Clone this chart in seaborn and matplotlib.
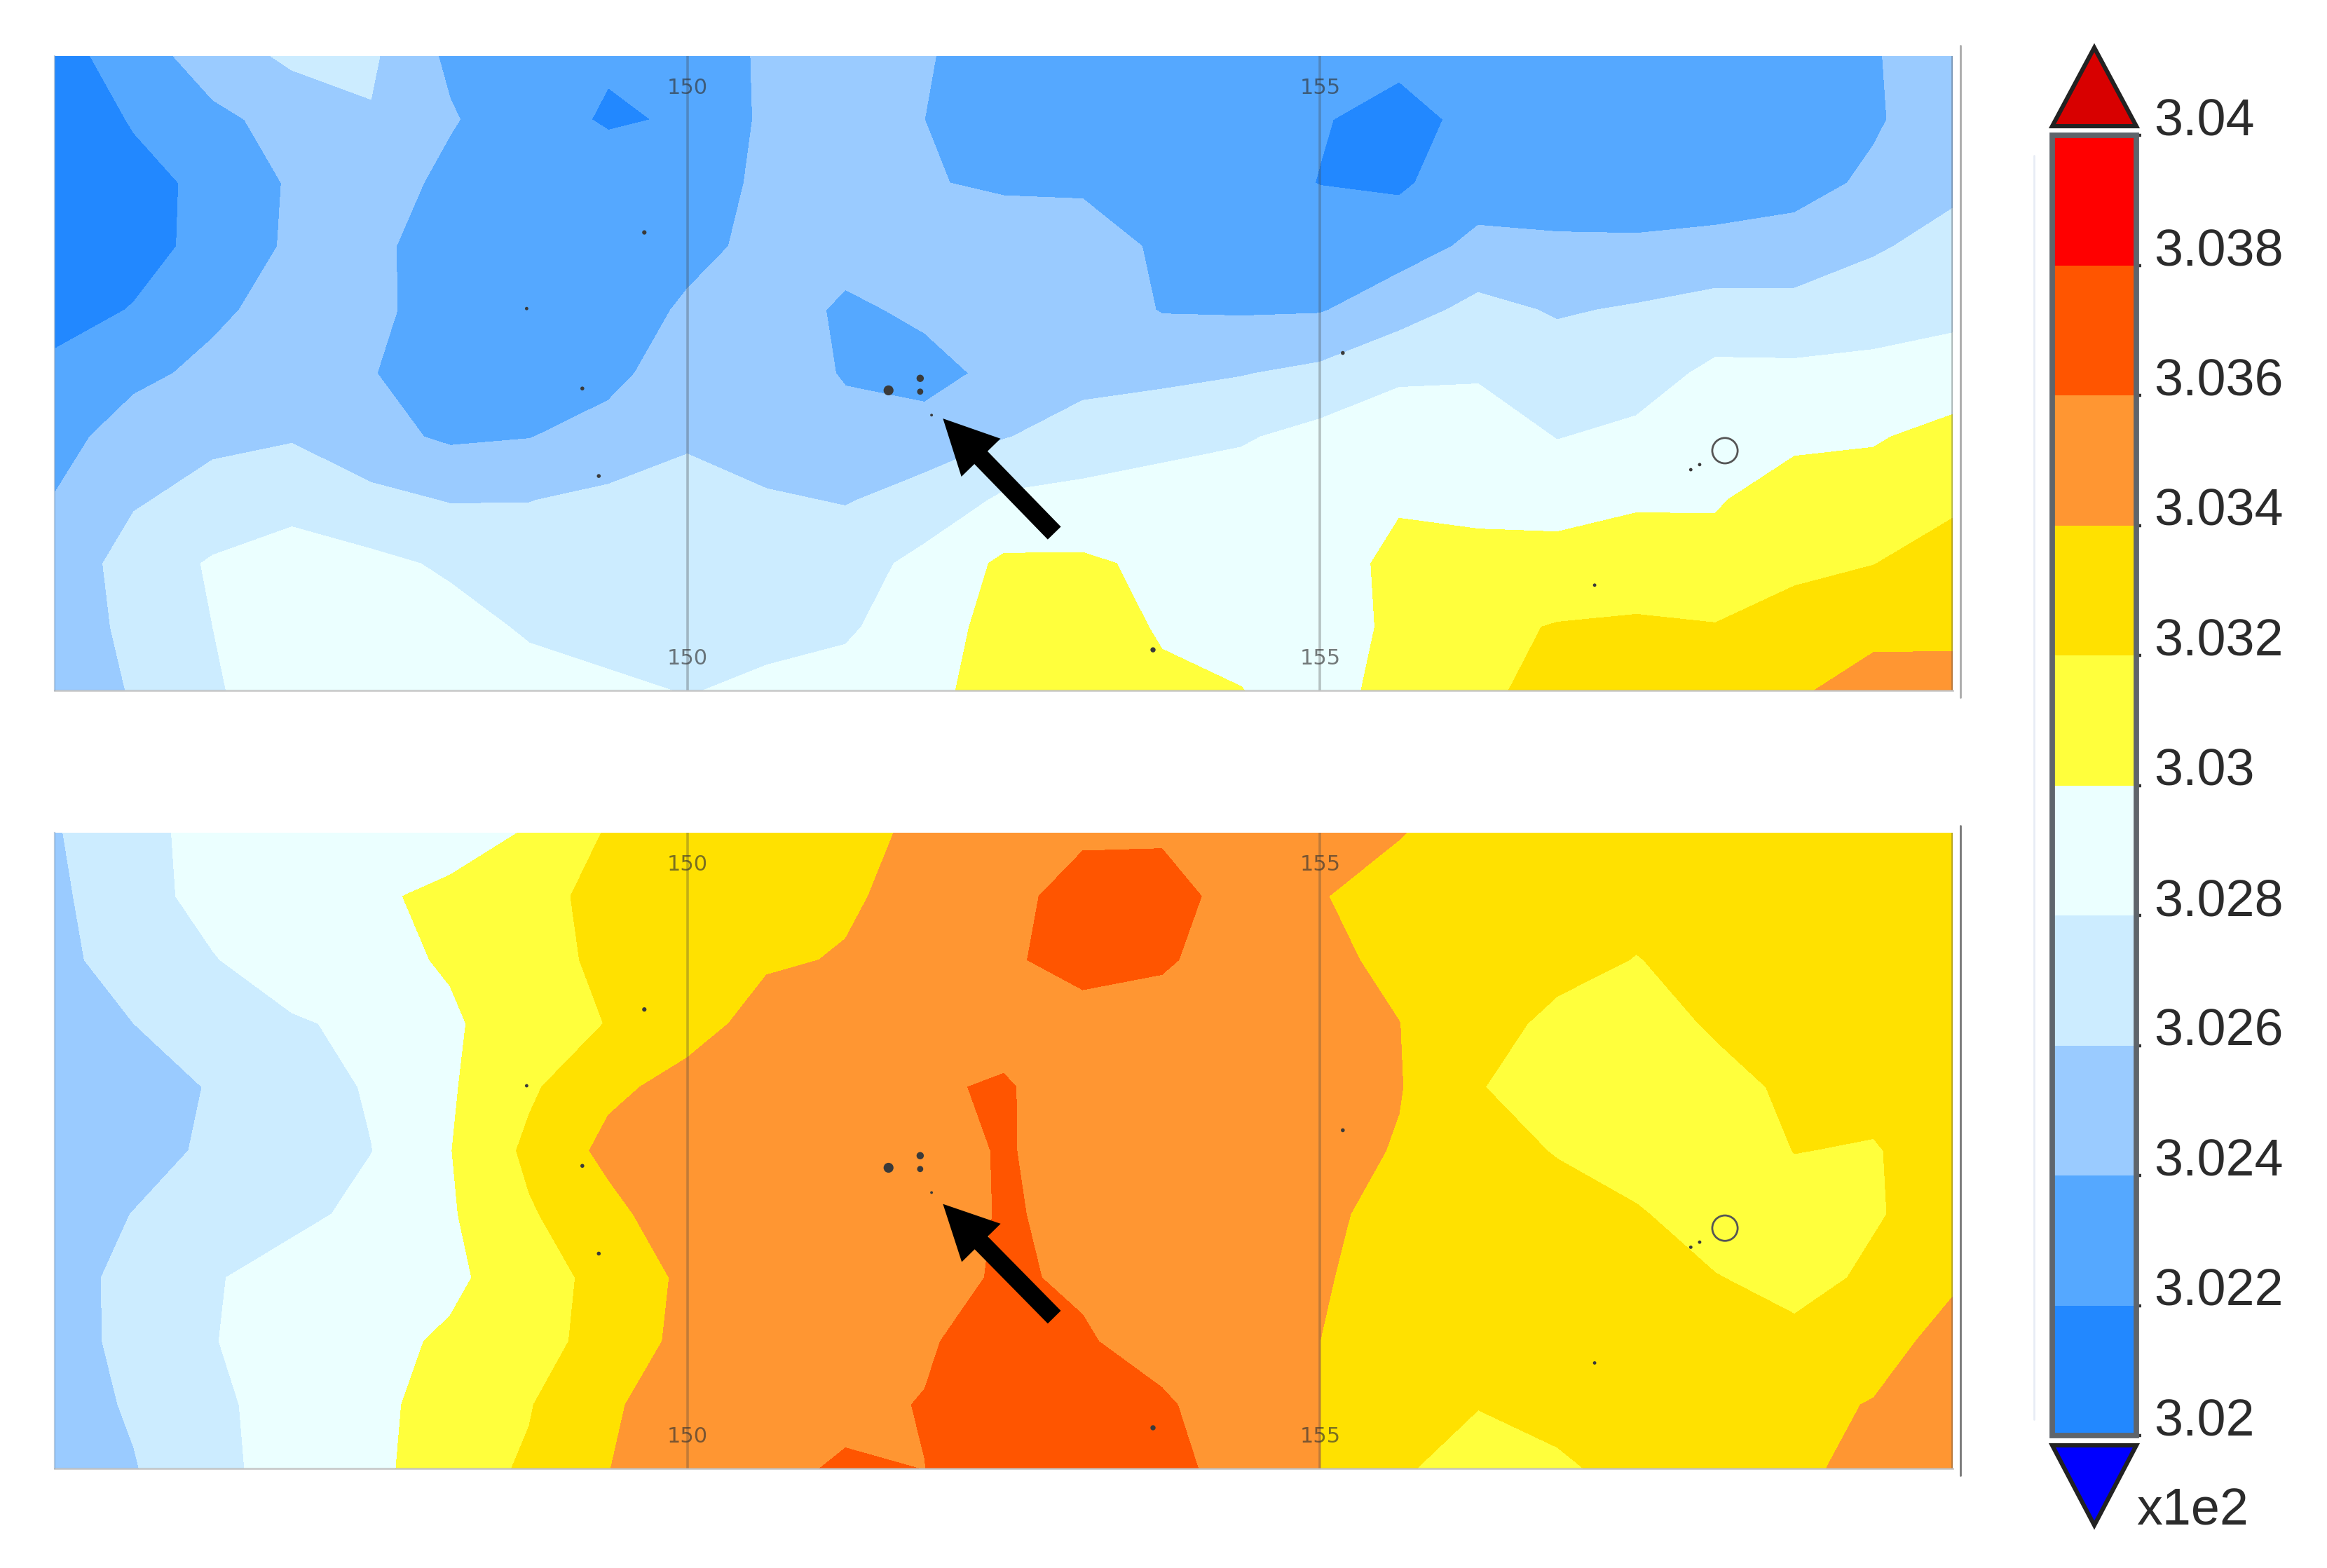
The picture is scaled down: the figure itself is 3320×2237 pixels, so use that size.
import numpy as np
import matplotlib
matplotlib.use("Agg")
import matplotlib.pyplot as plt
from matplotlib.cm import ScalarMappable
from matplotlib.colors import BoundaryNorm, ListedColormap
from matplotlib.lines import Line2D
import seaborn as sns

W, H = 3320, 2237

# grid: 0.625 x 0.5 deg, values are colour-bar steps (0.002) above 3.02
lons = np.arange(25) * 0.625 + 145
rows = np.arange(11) * 0.5

top_steps = [
    [.55, 1.55, 2.45, 3.2, 3.15, 1.8, 1.5, 1.08, 1.6, 2.1, 2.4, 2.05, 1.7, 1.5, 1.4, 1.4, 1.3, 1.17, 1.4, 1.5, 1.5, 1.6, 1.7, 1.95, 2.4],
    [.3, 1.08, 1.8, 2.3, 2.93, 2.1, 1.3, .92, 1.07, 2.2, 2.5, 2.0, 1.5, 1.4, 1.3, 1.2, 1.05, .75, 1.2, 1.3, 1.4, 1.5, 1.6, 1.9, 2.5],
    [.2, .7, 1.23, 2.12, 2.6, 1.7, 1.3, 1.4, 1.5, 2.2, 2.5, 2.07, 1.85, 1.9, 1.5, 1.3, .98, .85, 1.6, 1.5, 1.5, 1.6, 1.7, 2.15, 2.8],
    [.3, .65, 1.3, 2.16, 2.3, 1.36, 1.1, 1.2, 1.6, 2.37, 2.6, 2.6, 2.6, 2.3, 1.9, 1.6, 1.5, 1.6, 2.2, 2.15, 2.13, 2.2, 2.34, 2.9, 3.3],
    [.6, 1.05, 1.8, 2.4, 2.25, 1.5, 1.2, 1.25, 2.2, 2.85, 1.72, 2.29, 2.5, 2.6, 1.95, 1.9, 1.93, 2.55, 3.3, 2.9, 3.1, 3.41, 3.34, 3.5, 3.8],
    [1.25, 1.75, 2.25, 2.5, 2.05, 1.4, 1.2, 1.7, 2.6, 2.5, 1.93, 1.5, 2.4, 2.7, 2.75, 2.95, 3.23, 3.9, 3.9, 3.55, 3.6, 4.2, 4.2, 4.3, 4.35],
    [1.6, 2.5, 2.8, 2.93, 2.3, 1.85, 1.97, 2.4, 2.85, 2.55, 2.28, 2.6, 2.95, 3.4, 3.75, 3.9, 4.3, 4.35, 4.5, 3.97, 4.2, 4.55, 4.8, 4.9, 5.35],
    [2.05, 2.9, 3.35, 3.6, 3.27, 2.95, 2.98, 3.2, 3.4, 3.1, 2.95, 3.3, 4.17, 4.3, 4.35, 4.5, 4.5, 4.9, 4.75, 4.6, 4.9, 4.92, 5.45, 5.5, 5.8],
    [2.3, 3.45, 4.1, 4.55, 4.22, 3.87, 3.45, 3.4, 3.5, 3.4, 3.5, 4.32, 5.16, 5.15, 4.8, 4.6, 4.55, 5.25, 5.3, 5.4, 5.4, 5.3, 5.7, 5.98, 6.5],
    [2.5, 3.21, 4.0, 4.7, 4.7, 4.3, 3.9, 3.6, 3.6, 3.7, 3.85, 4.6, 5.31, 5.4, 4.92, 4.7, 4.55, 5.2, 5.8, 6.05, 6.15, 6.05, 6.55, 6.8, 6.75],
    [2.75, 3.03, 3.9, 4.5, 4.6, 4.5, 4.3, 4.2, 3.95, 4.2, 4.4, 4.8, 5.31, 5.5, 5.15, 5.02, 4.6, 5.37, 5.75, 6.4, 6.55, 6.6, 6.9, 7.3, 7.4],
]

bottom_steps = [
    [2.93, 3.6, 4.44, 4.5, 4.6, 4.7, 5.05, 6.09, 6.3, 6.5, 6.75, 7.16, 7.5, 7.8, 7.8, 7.4, 7.2, 7.05, 6.5, 6.5, 6.5, 6.5, 6.5, 6.5, 6.45],
    [2.8, 3.65, 4.31, 4.6, 4.9, 5.15, 5.55, 6.41, 6.7, 6.85, 6.9, 7.25, 7.6, 8.5, 8.6, 7.4, 7.05, 6.6, 6.3, 6.25, 6.2, 6.3, 6.4, 6.5, 6.5],
    [2.7, 3.5, 3.95, 4.5, 4.8, 5.07, 5.6, 6.23, 6.55, 6.9, 7.05, 7.5, 7.8, 8.47, 8.15, 7.45, 7.25, 6.75, 6.2, 6.2, 5.98, 6.2, 6.3, 6.4, 6.5],
    [2.5, 3.0, 3.6, 3.9, 4.2, 4.9, 5.4, 6.04, 6.65, 7.32, 7.5, 7.6, 7.45, 7.47, 7.5, 7.5, 7.3, 7.01, 6.25, 5.85, 5.6, 6.11, 6.3, 6.4, 6.5],
    [2.3, 2.5, 3.08, 3.5, 4.1, 4.9, 5.85, 6.8, 7.3, 7.4, 7.5, 7.82, 8.15, 7.2, 7.4, 7.5, 7.4, 7.05, 6.03, 5.7, 5.4, 5.7, 6.17, 6.3, 6.5],
    [2.3, 2.55, 3.2, 3.5, 3.98, 4.97, 6.2, 7.25, 7.5, 7.6, 7.65, 7.5, 8.1, 7.5, 7.5, 7.5, 7.35, 6.93, 6.2, 5.97, 5.4, 5.4, 6.02, 5.93, 6.5],
    [2.4, 3.03, 3.3, 3.7, 4.3, 4.9, 5.9, 6.7, 7.65, 7.7, 7.7, 7.4, 8.1, 7.75, 7.6, 7.5, 7.2, 6.68, 6.4, 6.2, 6.12, 5.4, 5.6, 5.9, 6.5],
    [2.5, 3.35, 3.9, 4.5, 4.7, 4.85, 5.4, 6.43, 7.17, 7.4, 7.5, 7.6, 8.13, 7.86, 7.6, 7.5, 7.1, 6.55, 6.4, 6.3, 6.1, 6.05, 5.6, 6.2, 6.85],
    [2.55, 3.3, 3.95, 4.6, 4.8, 5.1, 5.6, 6.4, 7.28, 7.5, 7.6, 7.85, 8.6, 8.1, 7.6, 7.3, 7.0, 6.6, 6.4, 6.3, 6.2, 6.15, 6.3, 6.6, 7.35],
    [2.6, 3.1, 3.8, 4.4, 4.75, 5.4, 5.95, 6.85, 7.55, 7.6, 7.75, 8.05, 8.7, 8.6, 8.15, 7.4, 7.0, 6.4, 6.03, 6.3, 6.4, 6.5, 6.75, 7.05, 7.7],
    [2.5, 2.95, 3.7, 4.45, 4.7, 5.65, 6.1, 6.98, 7.6, 7.75, 8.12, 7.99, 8.7, 8.75, 8.45, 7.47, 7.0, 6.1, 5.65, 5.85, 6.3, 6.6, 6.8, 7.3, 7.8],
]

levels = [3.02, 3.022, 3.024, 3.026, 3.028, 3.03, 3.032, 3.034, 3.036, 3.038, 3.04]
level_labels = ["3.02", "3.022", "3.024", "3.026", "3.028", "3.03", "3.032", "3.034", "3.036", "3.038", "3.04"]
band_colors = ["#2288FF", "#55A8FF", "#9ACBFF", "#CCECFF", "#EBFFFF",
               "#FFFF3C", "#FFE100", "#FF9632", "#FF5500", "#FF0000"]

# small islands, lon / degrees below the panel top
isle_lon = [151.59, 151.84, 151.84, 151.93, 149.66, 148.73, 149.17, 149.30, 155.18, 157.17, 153.68, 157.93, 158.0]
isle_lat = [2.635, 2.54, 2.645, 2.83, 1.39, 1.99, 2.62, 3.31, 2.34, 4.17, 4.68, 3.26, 3.22]
isle_size = [26, 14, 10, 2, 5, 3, 4, 4, 4, 3, 7, 3, 3]

sns.set_theme(style="white")
plt.rcParams["font.family"] = ["Liberation Sans", "DejaVu Sans"]

cmap = ListedColormap(sns.color_palette(band_colors))
cmap.set_over("#D80000")
cmap.set_under("#0000FF")
norm = BoundaryNorm(levels, cmap.N)

fig = plt.figure(figsize=(W / 200, H / 200), dpi=200, facecolor="white")


def px_axes(x0, y0, x1, y1):
    return fig.add_axes([x0 / W, 1 - y1 / H, (x1 - x0) / W, (y1 - y0) / H])


def draw_panel(ax, steps, tip_y, tail_y):
    z = 3.02 + 0.002 * np.array(steps)
    ax.contourf(lons, rows, z, levels=levels, cmap=cmap, norm=norm, extend="both")
    ax.set_xlim(145, 160)
    ax.set_ylim(5, 0)
    ax.set_xticks([])
    ax.set_yticks([])
    for lon, alpha in [(150, .32), (155, .32), (160, .4)]:
        ax.axvline(lon, color="#444444", lw=1.3, alpha=alpha)
    for lon in (150, 155):
        for y in (.25, 4.75):
            ax.text(lon, y, str(lon), ha="center", va="center", fontsize=11,
                    family="DejaVu Sans", color="#333333", alpha=.65)
    sns.scatterplot(x=isle_lon, y=isle_lat, size=isle_size, sizes=(2, 26), color="#3a3a3a",
                    linewidth=0, legend=False, ax=ax)
    ax.scatter([158.2], [3.11], s=170, facecolors="none", edgecolors="#555555", linewidths=1)
    ax.annotate("", xy=(152.02, tip_y), xytext=(152.9, tail_y),
                arrowprops=dict(width=9.4, headwidth=28, headlength=28, shrink=0,
                                facecolor="black", edgecolor="black", linewidth=0))
    sns.despine(ax=ax, top=True, right=True, left=False, bottom=False)
    ax.spines["left"].set(color="#7a9cc0", lw=.8, alpha=.5)
    ax.spines["bottom"].set(color="#aaaaaa", lw=1, alpha=.6)


ax_top = px_axes(78, 80, 2786, 985)
draw_panel(ax_top, top_steps, 2.857, 3.76)
ax_bot = px_axes(78, 1188, 2786, 2095)
draw_panel(ax_bot, bottom_steps, 2.92, 3.81)

# frame lines right of the panels and the faint one left of the colour bar
fig.add_artist(Line2D([2797 / W] * 2, [1 - 65 / H, 1 - 995 / H], color="#aaaaaa", lw=1))
fig.add_artist(Line2D([2797 / W] * 2, [1 - 1178 / H, 1 - 2105 / H], color="#777777", lw=1))
fig.add_artist(Line2D([2902 / W] * 2, [1 - 222 / H, 1 - 2025 / H], color="#e8ecf5", lw=1))

cax = px_axes(2928, 193, 3048, 2048)
cb = fig.colorbar(ScalarMappable(norm=norm, cmap=cmap), cax=cax, ticks=levels, spacing="proportional")
cb.ax.set_yticklabels(level_labels, fontsize=26.5, color="#2b2b2b")
cb.ax.tick_params(axis="y", right=True, length=2.6, width=1.6, color="#333333", pad=6.5)
for lbl in cb.ax.get_yticklabels():
    lbl.set_verticalalignment("baseline")
cb.outline.set_edgecolor("#5f656b")
cb.outline.set_linewidth(2.8)

for box, pts, color in [((2928, 68, 3048, 180), ([0, 1, .5], [0, 0, 1]), "#D80000"),
                        ((2928, 2062, 3048, 2176), ([0, 1, .5], [1, 1, 0]), "#0000FF")]:
    tri = px_axes(*box)
    tri.fill(pts[0], pts[1], facecolor=color, edgecolor="#222222", lw=2.2, clip_on=False)
    tri.set_xlim(0, 1)
    tri.set_ylim(0, 1)
    tri.axis("off")

fig.text(3048 / W, 1 - 2175 / H, "x1e2", fontsize=26.5, color="#2b2b2b", ha="left", va="baseline")

plt.savefig("out.png", dpi=200)
